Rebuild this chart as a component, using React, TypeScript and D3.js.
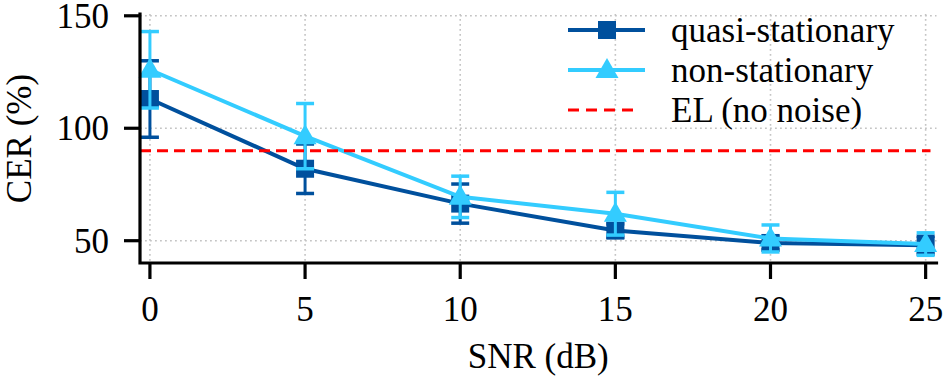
import React from "react";
import * as d3 from "d3";

const snr = [0, 5, 10, 15, 20, 25];
const quasiMean = [113, 82, 66.5, 54.5, 49, 48];
const quasiErr = [17, 11, 8.7, 3, 3, 4];
const nonMean = [126, 96.5, 69.5, 62, 51, 48.5];
const nonErr = [17, 14.5, 9.2, 9.5, 6, 5];
const elValue = 90;
const xTicks = [0, 5, 10, 15, 20, 25];
const yTicks = [50, 100, 150];
const legendLabels = ["quasi-stationary", "non-stationary", "EL (no noise)"];

const W = 947;
const H = 382;
const DARK = "#00509d";
const LIGHT = "#33ccff";
const RED = "#ff0000";
const FONT = "'Liberation Serif', 'Times New Roman', serif";

export default function App() {
  const x = d3.scaleLinear().domain([-0.32, 25.35]).range([140, 936.5]);
  const y = d3.scaleLinear().domain([40, 150]).range([263.2, 15.8]);
  const line = d3
    .line<number>()
    .x((_, i) => x(snr[i]))
    .y((d) => y(d));

  const series = [
    { mean: quasiMean, err: quasiErr, color: DARK, marker: "square" },
    { mean: nonMean, err: nonErr, color: LIGHT, marker: "triangle" },
  ];

  const marker = (kind: string, cx: number, cy: number, color: string, key: string) => {
    if (kind === "square") {
      return <rect key={key} x={cx - 9} y={cy - 9} width={18} height={18} fill={color} />;
    }
    return (
      <path
        key={key}
        d={`M${cx},${cy - 12} L${cx + 11.5},${cy + 8} L${cx - 11.5},${cy + 8} Z`}
        fill={color}
      />
    );
  };

  const capW = 9;
  const left = x.range()[0];
  const right = x.range()[1];
  const bottom = 263;

  return (
    <svg
      width={W}
      height={H}
      style={{ position: "absolute", left: 0, top: 0, background: "#fff" }}
      fontFamily={FONT}
    >
      {/* grid */}
      <g stroke="#c4c4c4" strokeWidth={1.6} strokeDasharray="1.8,3.2">
        {xTicks.map((t) => (
          <line key={"gx" + t} x1={x(t)} x2={x(t)} y1={14} y2={bottom} />
        ))}
        {yTicks.map((t) => (
          <line key={"gy" + t} x1={left} x2={right} y1={y(t)} y2={y(t)} />
        ))}
      </g>

      {/* series */}
      {series.map((s, si) => (
        <g key={"s" + si}>
          <path d={line(s.mean) || ""} fill="none" stroke={s.color} strokeWidth={4} />
          {s.mean.map((m, i) => {
            const cx = x(snr[i]);
            const y1 = y(m + s.err[i]);
            const y2 = y(m - s.err[i]);
            return (
              <g key={"e" + i} stroke={s.color}>
                <line x1={cx} x2={cx} y1={y1} y2={y2} strokeWidth={3} />
                <line x1={cx - capW} x2={cx + capW} y1={y1} y2={y1} strokeWidth={3.5} />
                <line x1={cx - capW} x2={cx + capW} y1={y2} y2={y2} strokeWidth={3.5} />
              </g>
            );
          })}
          {s.mean.map((m, i) => marker(s.marker, x(snr[i]), y(m), s.color, "m" + i))}
        </g>
      ))}

      {/* EL line */}
      <line
        x1={left}
        x2={right - 6}
        y1={y(elValue)}
        y2={y(elValue)}
        stroke={RED}
        strokeWidth={3.2}
        strokeDasharray="11,6"
      />

      {/* axes */}
      <g stroke="#000" strokeWidth={3.2} fill="none">
        <path d={`M${left},${14} L${left},${bottom} L${right},${bottom}`} strokeLinecap="square" />
        {yTicks.map((t) => (
          <line key={"ty" + t} x1={124} x2={left} y1={y(t)} y2={y(t)} />
        ))}
        {xTicks.map((t) => (
          <line key={"tx" + t} x1={x(t)} x2={x(t)} y1={bottom} y2={279} />
        ))}
      </g>
      <g fontSize={35} fill="#000">
        {yTicks.map((t) => (
          <text key={"ly" + t} x={109} y={y(t) + 12} textAnchor="end">
            {t}
          </text>
        ))}
        {xTicks.map((t) => (
          <text key={"lx" + t} x={x(t)} y={320.5} textAnchor="middle">
            {t}
          </text>
        ))}
        <text x={(left + right) / 2} y={368} textAnchor="middle">
          SNR (dB)
        </text>
        <text
          transform={`translate(31,${(14 + bottom) / 2}) rotate(-90)`}
          textAnchor="middle"
        >
          CER (%)
        </text>
      </g>

      {/* legend */}
      <g>
        <line x1={568} x2={645} y1={30} y2={30} stroke={DARK} strokeWidth={4} />
        {marker("square", 607, 30, DARK, "lg1")}
        <line x1={568} x2={645} y1={70} y2={70} stroke={LIGHT} strokeWidth={4} />
        {marker("triangle", 607, 70, LIGHT, "lg2")}
        <line
          x1={568}
          x2={636}
          y1={110}
          y2={110}
          stroke={RED}
          strokeWidth={3.2}
          strokeDasharray="11,7"
        />
        {legendLabels.map((l, i) => (
          <text key={l} x={671} y={42 + i * 40} fontSize={35} fill="#000">
            {l}
          </text>
        ))}
      </g>
    </svg>
  );
}
